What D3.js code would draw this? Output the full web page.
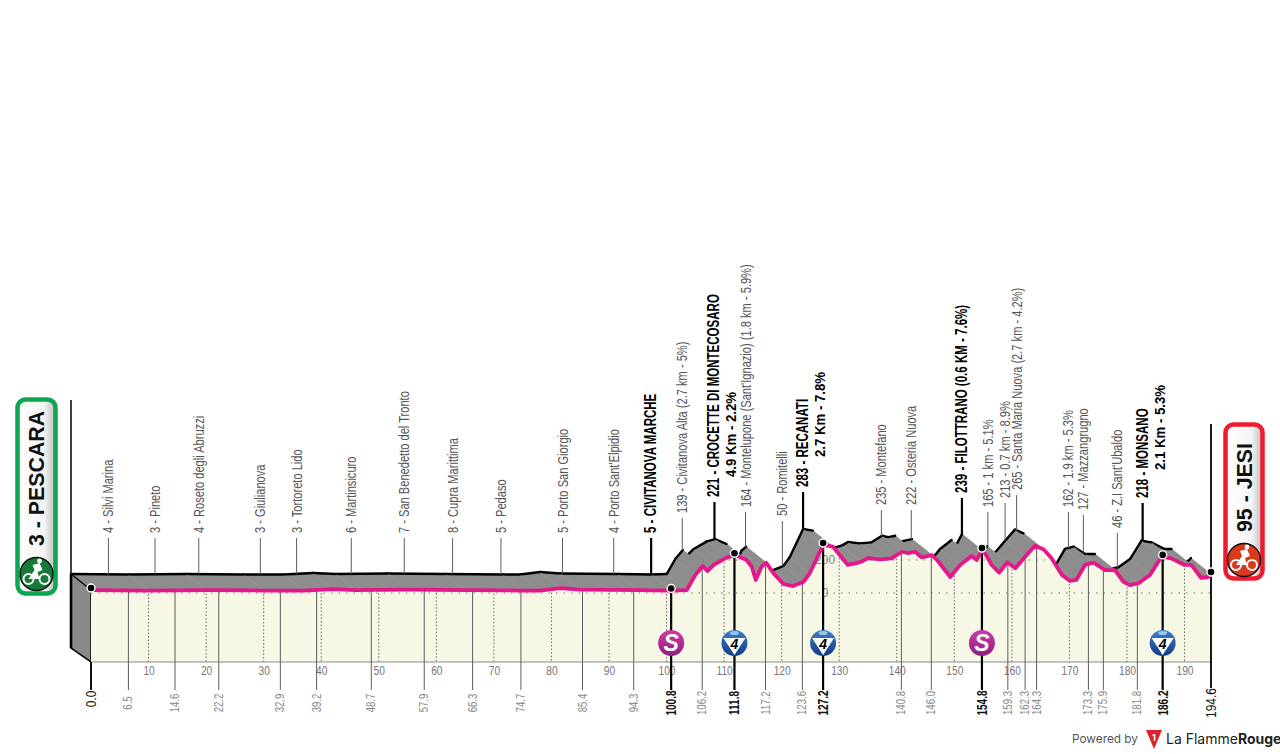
<!DOCTYPE html>
<html>
<head>
<meta charset="utf-8">
<script src="https://cdn.jsdelivr.net/npm/d3@7"></script>
<style>
  html, body { margin: 0; background: #fff; }
  svg { display: block; }
  text { font-family: "Liberation Sans Narrow", "Liberation Sans", sans-serif; }
</style>
</head>
<body>
<div id="chart"></div>
<script>
// profile: km and altitude
const profileKm = [0, 10, 20, 30, 37, 42, 46, 55, 65, 75, 78, 81.5, 85, 95, 100.8, 103.5, 105, 106.3, 107.1, 108.2,
  110.5, 111.9, 113.9, 114.8, 115.5, 116.5, 117.3, 118.6, 120.3, 122, 123.8, 124.9, 127.2, 128.9, 131.5, 132.8,
  133.9, 135, 137.1, 139.1, 140.9, 142, 143.2, 144.3, 146.1, 147, 149.3, 151, 153, 153.9, 154.8, 155.3, 156.5,
  157.8, 159.2, 160.6, 162.3, 164, 165.5, 166.9, 168.7, 170.1, 171.2, 172.7, 174.2, 176.2, 177.9, 179.4, 180.5,
  182, 184, 186, 187.7, 190, 191.2, 192.9, 194.1, 194.6];
const profileAlt = [18, 15, 18, 15, 15, 24, 18, 21, 18, 15, 15, 30, 21, 18, 15, 18, 109, 164, 133, 170,
  216, 230, 200, 159, 79, 159, 184, 119, 55, 42, 68, 121, 291, 281, 170, 180,
  190, 212, 204, 210, 250, 242, 250, 216, 230, 200, 97, 170, 224, 200, 260, 242, 170,
  123, 186, 150, 220, 287, 265, 210, 109, 73, 79, 170, 184, 139, 139, 68, 48,
  59, 109, 220, 210, 170, 170, 91, 97, 115];

const townKm = [6.5, 14.6, 22.2, 32.9, 39.2, 48.7, 57.9, 66.3, 74.7, 85.4, 94.3, 100.8, 106.2, 111.8, 117.2,
  123.6, 127.2, 140.8, 146.0, 154.8, 159.3, 162.3, 164.3, 173.3, 175.9, 181.8, 186.2];
const townNames = ["4 - Silvi Marina", "3 - Pineto", "4 - Roseto degli Abruzzi", "3 - Giulianova", "3 - Tortoreto Lido",
  "6 - Martinsicuro", "7 - San Benedetto del Tronto", "8 - Cupra Marittima", "5 - Pedaso", "5 - Porto San Giorgio",
  "4 - Porto Sant'Elpidio", "5 - CIVITANOVA MARCHE", "139 - Civitanova Alta (2.7 km - 5%)",
  "221 - CROCETTE DI MONTECOSARO", "164 - Montelupone (Sant'Ignazio) (1.8 km - 5.9%)", "50 - Romitelli",
  "283 - RECANATI", "235 - Montefano", "222 - Osteria Nuova", "239 - FILOTTRANO (0.6 KM - 7.6%)",
  "165 - 1 km - 5.1%", "213 - 0.7 km - 8.9%", "265 - Santa Maria Nuova (2.7 km - 4.2%)", "162 - 1.9 km - 5.3%",
  "127 - Mazzangrugno", "46 - Z.I Sant'Ubaldo", "218 - MONSANO"];
const mainKm = [100.8, 111.8, 127.2, 154.8, 186.2];
const climbNotes = { 111.8: "4.9 Km - 2.2%", 127.2: "2.7 Km - 7.8%", 186.2: "2.1 Km - 5.3%" };
const sprintKm = [100.8, 154.8];
const komKm = [111.8, 127.2, 186.2];
const kmTicks = [10, 20, 30, 40, 50, 60, 70, 80, 90, 100, 110, 120, 130, 140, 150, 160, 170, 180, 190];
const altTicks = [0, 200];
const startKm = 0, endKm = 194.6;

// layout only: where each town label ends at the bottom, in page pixels
const labelBottom = [533, 533, 533, 533, 533, 533, 533, 533, 533, 533, 533, 533, 513, 497, 507, 516, 487, 505, 505,
  493, 507, 498, 490, 507, 510, 528, 498];
const noteShift = { 111.8: 20, 127.2: 30, 186.2: 28 };

const width = 1280, height = 754;
const baseY = 662, kmLabelY = 691, dx = -20, dy = -16;
const pink = "#e6178b", grey = "#8d8d8d", cream = "#f7f7e6", inkGrey = "#5e5e5e";

const x = d3.scaleLinear().domain([0, 194.6]).range([91, 1211]);
const y = d3.scaleLinear().domain([0, 200]).range([593, 560]);
const altAt = d3.scaleLinear().domain(profileKm).range(profileAlt);
const profile = profileKm.map((km, i) => ({ km: km, alt: profileAlt[i] }));

const svg = d3.select("#chart").append("svg").attr("width", width).attr("height", height);
const defs = svg.append("defs");

// grey top of the road, painted right to left so nearer humps hide the back edge behind them
// back edge is only inked where the road climbs or runs flat
const strip = (a, b) => [[x(a.km), y(a.alt)], [x(b.km), y(b.alt)], [x(b.km) + dx, y(b.alt) + dy], [x(a.km) + dx, y(a.alt) + dy]];
const climbs = d => (d[1].alt - d[0].alt) / (d[1].km - d[0].km) > -25;
const roadTop = svg.append("g");
d3.pairs(profile).reverse().forEach(d => {
  roadTop.append("polygon")
    .attr("points", strip(d[0], d[1]).join(" "))
    .attr("fill", grey).attr("stroke", grey).attr("stroke-width", 0.5);
  if (climbs(d)) {
    roadTop.append("line")
      .attr("x1", x(d[0].km) + dx).attr("y1", y(d[0].alt) + dy)
      .attr("x2", x(d[1].km) + dx).attr("y2", y(d[1].alt) + dy)
      .attr("stroke", "#000").attr("stroke-width", 2.4).attr("stroke-linecap", "round");
  }
});

// left wall
svg.append("polygon")
  .attr("points", [[71, 574], [91, 590], [91, baseY], [71, 648]].join(" "))
  .attr("fill", "#8a8a8a");
svg.append("path").attr("d", `M71,400V648L91,${baseY}V590L71,574`)
  .attr("fill", "none").attr("stroke", "#111").attr("stroke-width", 1.6);
svg.append("line").attr("x1", 71).attr("x2", 71).attr("y1", 574).attr("y2", 648)
  .attr("stroke", "#000").attr("stroke-width", 2.6);

// cream face below the road
const area = d3.area().x(d => x(d.km)).y0(baseY).y1(d => y(d.alt));
svg.append("path").datum(profile).attr("d", area).attr("fill", cream);
defs.append("clipPath").attr("id", "face").append("path").datum(profile).attr("d", area);

// altitude grid, only seen on the cream face
altTicks.forEach(t => {
  svg.append("line")
    .attr("clip-path", "url(#face)")
    .attr("x1", x(startKm)).attr("x2", x(endKm)).attr("y1", y(t)).attr("y2", y(t))
    .attr("stroke", "#777").attr("stroke-width", 1).attr("stroke-dasharray", "1.5 6");
});
const altAxis = d3.axisRight(y).tickValues(altTicks).tickSize(0).tickFormat(d3.format("d"));
const altG = svg.append("g").attr("transform", `translate(${x(127.2)},0)`).call(altAxis);
altG.select(".domain").remove();
altG.selectAll("text").attr("x", 2).attr("text-anchor", "middle").attr("fill", "#888").attr("font-size", 12);

// every 10 km: dotted line and label
svg.append("g").selectAll("line")
  .data(kmTicks)
  .enter().append("line")
    .attr("x1", d => x(d)).attr("x2", d => x(d))
    .attr("y1", d => y(altAt(d))).attr("y2", baseY)
    .attr("stroke", "#666").attr("stroke-width", 1).attr("stroke-dasharray", "1.5 2");
const kmAxis = d3.axisBottom(x).tickValues(kmTicks).tickSize(0).tickFormat(d3.format("d"));
const kmG = svg.append("g").attr("transform", `translate(0,${baseY})`).call(kmAxis);
kmG.select(".domain").remove();
kmG.selectAll("text").attr("y", 4).attr("fill", "#777").attr("font-size", 12)
  .attr("transform", "scale(0.85,1)");

svg.append("line").attr("x1", x(startKm)).attr("x2", x(endKm)).attr("y1", baseY).attr("y2", baseY)
  .attr("stroke", "#8a8a8a").attr("stroke-width", 1.2);

// km markers from the road down to the distance labels
const isMain = km => mainKm.includes(km);
svg.append("g").selectAll("line")
  .data(townKm)
  .enter().append("line")
    .attr("x1", d => x(d)).attr("x2", d => x(d))
    .attr("y1", d => y(altAt(d))).attr("y2", kmLabelY - 1)
    .attr("stroke", d => isMain(d) ? "#000" : inkGrey)
    .attr("stroke-width", d => isMain(d) ? 2.2 : 1);
svg.append("line").attr("x1", x(startKm)).attr("x2", x(startKm)).attr("y1", baseY).attr("y2", kmLabelY - 1)
  .attr("stroke", "#111").attr("stroke-width", 2);
svg.append("line").attr("x1", x(endKm)).attr("x2", x(endKm)).attr("y1", 424).attr("y2", kmLabelY - 3)
  .attr("stroke", "#000").attr("stroke-width", 1.8);

// the road
const road = d3.line().x(d => x(d.km)).y(d => y(d.alt)).curve(d3.curveLinear);
svg.append("path").datum(profile).attr("d", road)
  .attr("fill", "none").attr("stroke", pink).attr("stroke-width", 3.8)
  .attr("stroke-linejoin", "round").attr("stroke-linecap", "round");

// town labels
const towns = svg.append("g");
townKm.forEach((km, i) => {
  const main = isMain(km);
  const px = x(km) + dx;
  const bottom = labelBottom[i];
  towns.append("line")
    .attr("x1", px).attr("x2", px)
    .attr("y1", bottom + 5).attr("y2", y(altAt(km)) + dy)
    .attr("stroke", main ? "#000" : inkGrey)
    .attr("stroke-width", main ? 2.2 : 1);
  towns.append("text")
    .attr("transform", `translate(${px + 5},${bottom}) rotate(-90) scale(${main ? 0.72 : 0.74},1)`)
    .attr("font-size", main ? 16 : 15)
    .attr("font-weight", main ? "bold" : "normal")
    .attr("fill", main ? "#000" : "#555")
    .text(townNames[i]);
  if (climbNotes[km]) {
    towns.append("text")
      .attr("transform", `translate(${px + 22},${bottom - noteShift[km]}) rotate(-90) scale(0.88,1)`)
      .attr("font-size", 15).attr("font-weight", "bold").attr("fill", "#000")
      .text(climbNotes[km]);
  }
});

// distance labels
const kmLabels = [startKm].concat(townKm, [endKm]);
const isEnd = km => km === startKm || km === endKm;
svg.append("g").selectAll("text")
  .data(kmLabels)
  .enter().append("text")
    .attr("transform", d => {
      const s = isMain(d) ? 0.72 : isEnd(d) ? 0.85 : 0.8;
      return `translate(${x(d) + (isMain(d) || isEnd(d) ? 5 : 4)},${d === startKm ? 699 : 703}) rotate(-90) scale(${s},1)`;
    })
    .attr("text-anchor", "middle")
    .attr("font-size", d => (isMain(d) || isEnd(d)) ? 14 : 12)
    .attr("font-weight", d => isMain(d) ? "bold" : "normal")
    .attr("fill", d => (isMain(d) || isEnd(d)) ? "#111" : "#888")
    .text(d => d.toFixed(1));

// black dots
const dotKm = [startKm].concat(mainKm, [endKm]);
svg.append("g").selectAll("circle")
  .data(dotKm)
  .enter().append("circle")
    .attr("cx", d => x(d))
    .attr("cy", d => y(altAt(d)) - 2)
    .attr("r", 4)
    .attr("fill", "#000")
    .attr("stroke", "#fff").attr("stroke-width", 1.4);

// gradients for the badges
const grad = (id, c1, c2) => {
  const g = defs.append("linearGradient").attr("id", id).attr("x1", 0).attr("x2", 0).attr("y1", 0).attr("y2", 1);
  g.append("stop").attr("offset", "0%").attr("stop-color", c1);
  g.append("stop").attr("offset", "100%").attr("stop-color", c2);
};
grad("sprintFill", "#d03aa8", "#8f1f7f");
grad("komFill", "#3d7fc7", "#123c86");
const side = defs.append("linearGradient").attr("id", "pill").attr("x1", 0).attr("x2", 1).attr("y1", 0).attr("y2", 0);
side.append("stop").attr("offset", "0%").attr("stop-color", "#ffffff");
side.append("stop").attr("offset", "70%").attr("stop-color", "#f4f4f4");
side.append("stop").attr("offset", "100%").attr("stop-color", "#bdbdbd");

const badgeY = 643;
sprintKm.forEach(km => {
  const g = svg.append("g").attr("transform", `translate(${x(km)},${badgeY})`);
  g.append("circle").attr("r", 13).attr("fill", "url(#sprintFill)");
  g.append("text").attr("y", 8).attr("text-anchor", "middle")
    .attr("font-size", 23).attr("font-weight", "bold").attr("font-style", "italic")
    .attr("fill", "#fff").style("font-family", '"Liberation Sans"').text("S");
});
komKm.forEach(km => {
  const g = svg.append("g").attr("transform", `translate(${x(km)},${badgeY})`);
  g.append("circle").attr("r", 13).attr("fill", "url(#komFill)");
  g.append("ellipse").attr("cy", -10).attr("rx", 4.5).attr("ry", 2).attr("fill", "#9cc4ea");
  g.append("path").attr("d", "M-11,-5H11L0,12Z").attr("fill", "#fff");
  g.append("text").attr("y", 6).attr("text-anchor", "middle")
    .attr("font-size", 14).attr("font-weight", "bold").attr("font-style", "italic")
    .attr("fill", "#000").text("4");
});

// start and finish badges
const cyclist = (g, cx, cy, r, fill) => {
  const c = g.append("g").attr("transform", `translate(${cx},${cy})`);
  c.append("circle").attr("r", r).attr("fill", fill).attr("stroke", "#111").attr("stroke-width", 1.4);
  c.append("circle").attr("cx", -8).attr("cy", 5).attr("r", 5).attr("fill", "none").attr("stroke", "#fff").attr("stroke-width", 2);
  c.append("circle").attr("cx", 8).attr("cy", 5).attr("r", 5).attr("fill", "none").attr("stroke", "#fff").attr("stroke-width", 2);
  c.append("path").attr("d", "M-8,5L-2,-4L-4,-9L3,-11L6,-4L1,-2L3,5Z").attr("fill", "#fff");
  c.append("circle").attr("cx", 3).attr("cy", -13).attr("r", 2.4).attr("fill", "#fff");
};
const badge = (bx, by, w, h, stroke, label, textX, textY, iconY, iconFill) => {
  const g = svg.append("g");
  g.append("rect").attr("x", bx).attr("y", by).attr("width", w).attr("height", h)
    .attr("rx", 8).attr("fill", "url(#pill)").attr("stroke", stroke).attr("stroke-width", 4.5);
  g.append("text")
    .attr("transform", `translate(${textX},${textY}) rotate(-90) scale(0.97,1)`)
    .style("font-family", '"Liberation Sans"')
    .attr("font-size", 22).attr("font-weight", "bold").attr("fill", "#111")
    .text(label);
  cyclist(g, bx + w / 2, iconY, 16.5, iconFill);
};
badge(17.5, 399.5, 38, 194, "#0aa651", "3 - PESCARA", 44, 546, 574, "#167a3a");
badge(1225.5, 424.5, 37, 154, "#ee1c2e", "95 - JESI", 1252, 532, 560, "#d93a1c");

// footer
const foot = svg.append("g");
foot.append("text").attr("x", 1072).attr("y", 743).attr("font-size", 11.8).attr("fill", "#555")
  .style("font-family", "Inter").text("Powered by");
foot.append("path").attr("d", "M1146,730H1162L1154,749Z").attr("fill", "#e2202c");
foot.append("text").attr("x", 1154).attr("y", 741).attr("text-anchor", "middle").attr("font-size", 9)
  .attr("font-weight", "bold").attr("fill", "#fff").style("font-family", "Inter").text("1");
const brand = foot.append("text").attr("x", 1166).attr("y", 744).attr("font-size", 14).attr("fill", "#222")
  .style("font-family", "Inter");
brand.append("tspan").text("La Flamme");
brand.append("tspan").attr("font-weight", "bold").text("Rouge");
</script>
</body>
</html>
